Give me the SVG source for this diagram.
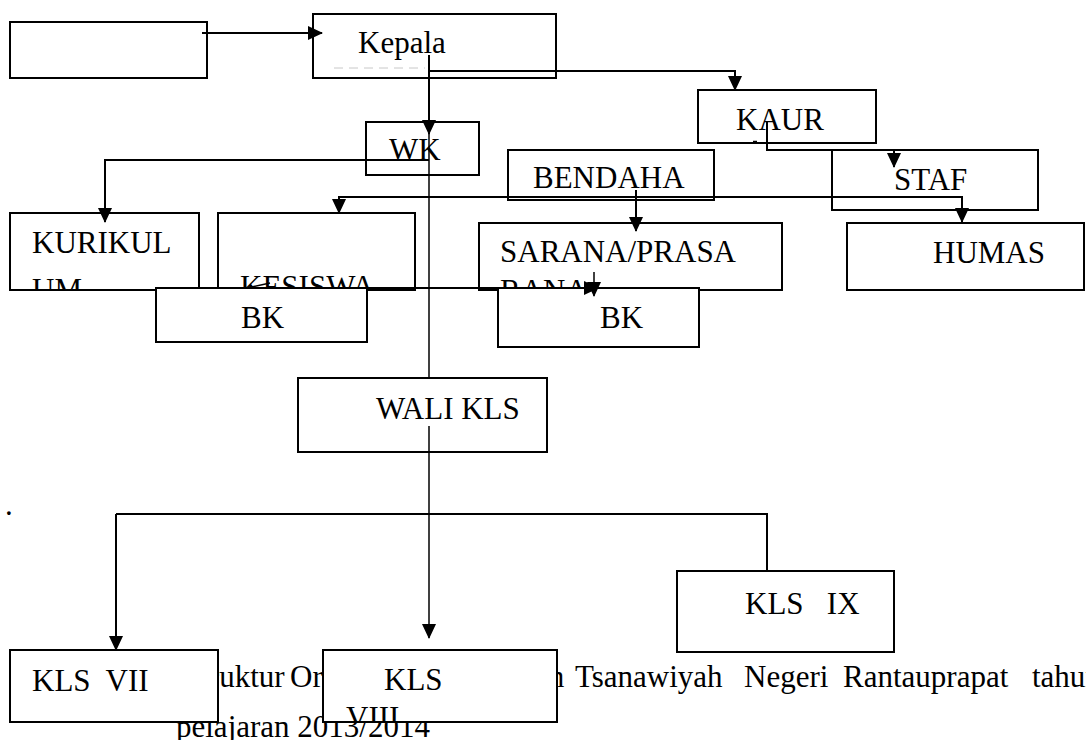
<svg xmlns="http://www.w3.org/2000/svg" width="1086" height="740" viewBox="0 0 1086 740">
<style>
.box{fill:#fff;stroke:#000;stroke-width:2}
.t{font-family:"Liberation Serif","Times New Roman",serif;font-size:31px;fill:#000;white-space:pre}
.c{fill:none;stroke:#000;stroke-width:2}
.thin{fill:none;stroke:#000;stroke-width:1.5}
.arr{marker-end:url(#ah)}
</style>
<defs>
<marker id="ah" markerUnits="userSpaceOnUse" markerWidth="16" markerHeight="14" refX="14" refY="7" orient="auto">
<path d="M0,0 L15,7 L0,14 z" fill="#000"/>
</marker>
<clipPath id="cKur"><rect x="10" y="213" width="189" height="77"/></clipPath>
<clipPath id="cKes"><rect x="218" y="213" width="197" height="77"/></clipPath>
<clipPath id="cSar"><rect x="479" y="223" width="303" height="67"/></clipPath>
<clipPath id="cK8"><rect x="323" y="650" width="234" height="72"/></clipPath>
</defs>
<rect width="1086" height="740" fill="#fff"/>
<g id="caption">
<text class="t"><tspan x="183" y="687">Struktur</tspan><tspan x="290" y="687">Organisasi</tspan><tspan x="442" y="687">Madrasah</tspan><tspan x="575" y="687">Tsanawiyah</tspan><tspan x="744" y="687">Negeri</tspan><tspan x="843" y="687">Rantauprapat</tspan><tspan x="1032" y="687">tahun</tspan></text>
<text class="t" x="176" y="737">pelajaran 2013/2014</text>
<text class="t" x="5" y="515">.</text>
</g>
<g id="n_blank"><rect class="box" x="10" y="22" width="197" height="56"/></g>
<g id="n_kepala"><rect class="box" x="313" y="14" width="243" height="64"/><text class="t" x="358" y="53">Kepala</text><path d="M334,68 H425" stroke="#c8c8c8" stroke-width="1" stroke-dasharray="9,6" fill="none"/></g>
<g id="n_kaur"><rect class="box" x="698" y="90" width="178" height="53"/><text class="t" x="736" y="130">KAUR</text><path d="M753,141.5 H757" stroke="#000" stroke-width="1.5"/></g>
<g id="n_wk"><rect class="box" x="366" y="122" width="113" height="53"/><text class="t" x="389" y="160">WK</text></g>
<g id="n_bendahara"><rect class="box" x="508" y="150" width="206" height="50"/><text class="t" x="533" y="188">BENDAHA</text></g>
<g id="n_staf"><rect class="box" x="832" y="150" width="206" height="60"/><text class="t" x="894" y="190">STAF</text></g>
<g id="n_kurikulum"><rect class="box" x="10" y="213" width="189" height="77"/><g clip-path="url(#cKur)"><text class="t" x="32" y="253">KURIKUL</text><text class="t" x="32" y="300">UM</text></g></g>
<g id="n_kesiswaan"><rect class="box" x="218" y="213" width="197" height="77"/><g clip-path="url(#cKes)"><text class="t" x="240" y="297">KESISWA</text></g></g>
<g id="n_sarana"><rect class="box" x="479" y="223" width="303" height="67"/><g clip-path="url(#cSar)"><text class="t" x="500" y="262">SARANA/PRASA</text><text class="t" x="500" y="301">RANA</text></g></g>
<g id="n_humas"><rect class="box" x="847" y="223" width="237" height="67"/><text class="t" x="933" y="263">HUMAS</text></g>
<g id="n_bk1"><rect class="box" x="156" y="288" width="211" height="54"/><text class="t" x="241" y="328">BK</text></g>
<g id="n_bk2"><rect class="box" x="498" y="288" width="201" height="59"/><text class="t" x="600" y="328">BK</text></g>
<g id="n_wali"><rect class="box" x="298" y="378" width="249" height="74"/><text class="t" x="376" y="419">WALI KLS</text></g>
<g id="n_kls9"><rect class="box" x="677" y="571" width="217" height="81"/><text class="t" x="745" y="614" xml:space="preserve">KLS   IX</text></g>
<g id="n_kls7"><rect class="box" x="10" y="650" width="208" height="72"/><text class="t" x="32" y="691" xml:space="preserve">KLS  VII</text></g>
<g id="n_kls8"><rect class="box" x="323" y="650" width="234" height="72"/><g clip-path="url(#cK8)"><text class="t" x="384" y="690">KLS</text><text class="t" x="346" y="728">VIII</text></g></g>
<g id="connectors">
<path class="c arr" d="M202,33 H322"/>
<path class="c arr" d="M429,55 V134"/>
<path class="c arr" d="M429,71 H735 V90"/>
<path class="c arr" d="M767,122 V150 H894 V167"/>
<path class="c arr" d="M429,160 H105 V222"/>
<path class="c arr" d="M636,197 H339 V213"/>
<path class="c arr" d="M636,197 H962 V222"/>
<path class="c arr" d="M636,190 V231"/>
<path class="thin" d="M429,130 V378"/>
<path class="thin arr" d="M429,426 V638"/>
<path class="c" d="M767,571 V514 H116"/>
<path class="c arr" d="M116,514 V650"/>
<path class="c arr" d="M246,288 H598"/>
<path class="thin" d="M247,288 L270,283"/>
<path class="thin arr" d="M594,272 V296"/>
</g>
</svg>
